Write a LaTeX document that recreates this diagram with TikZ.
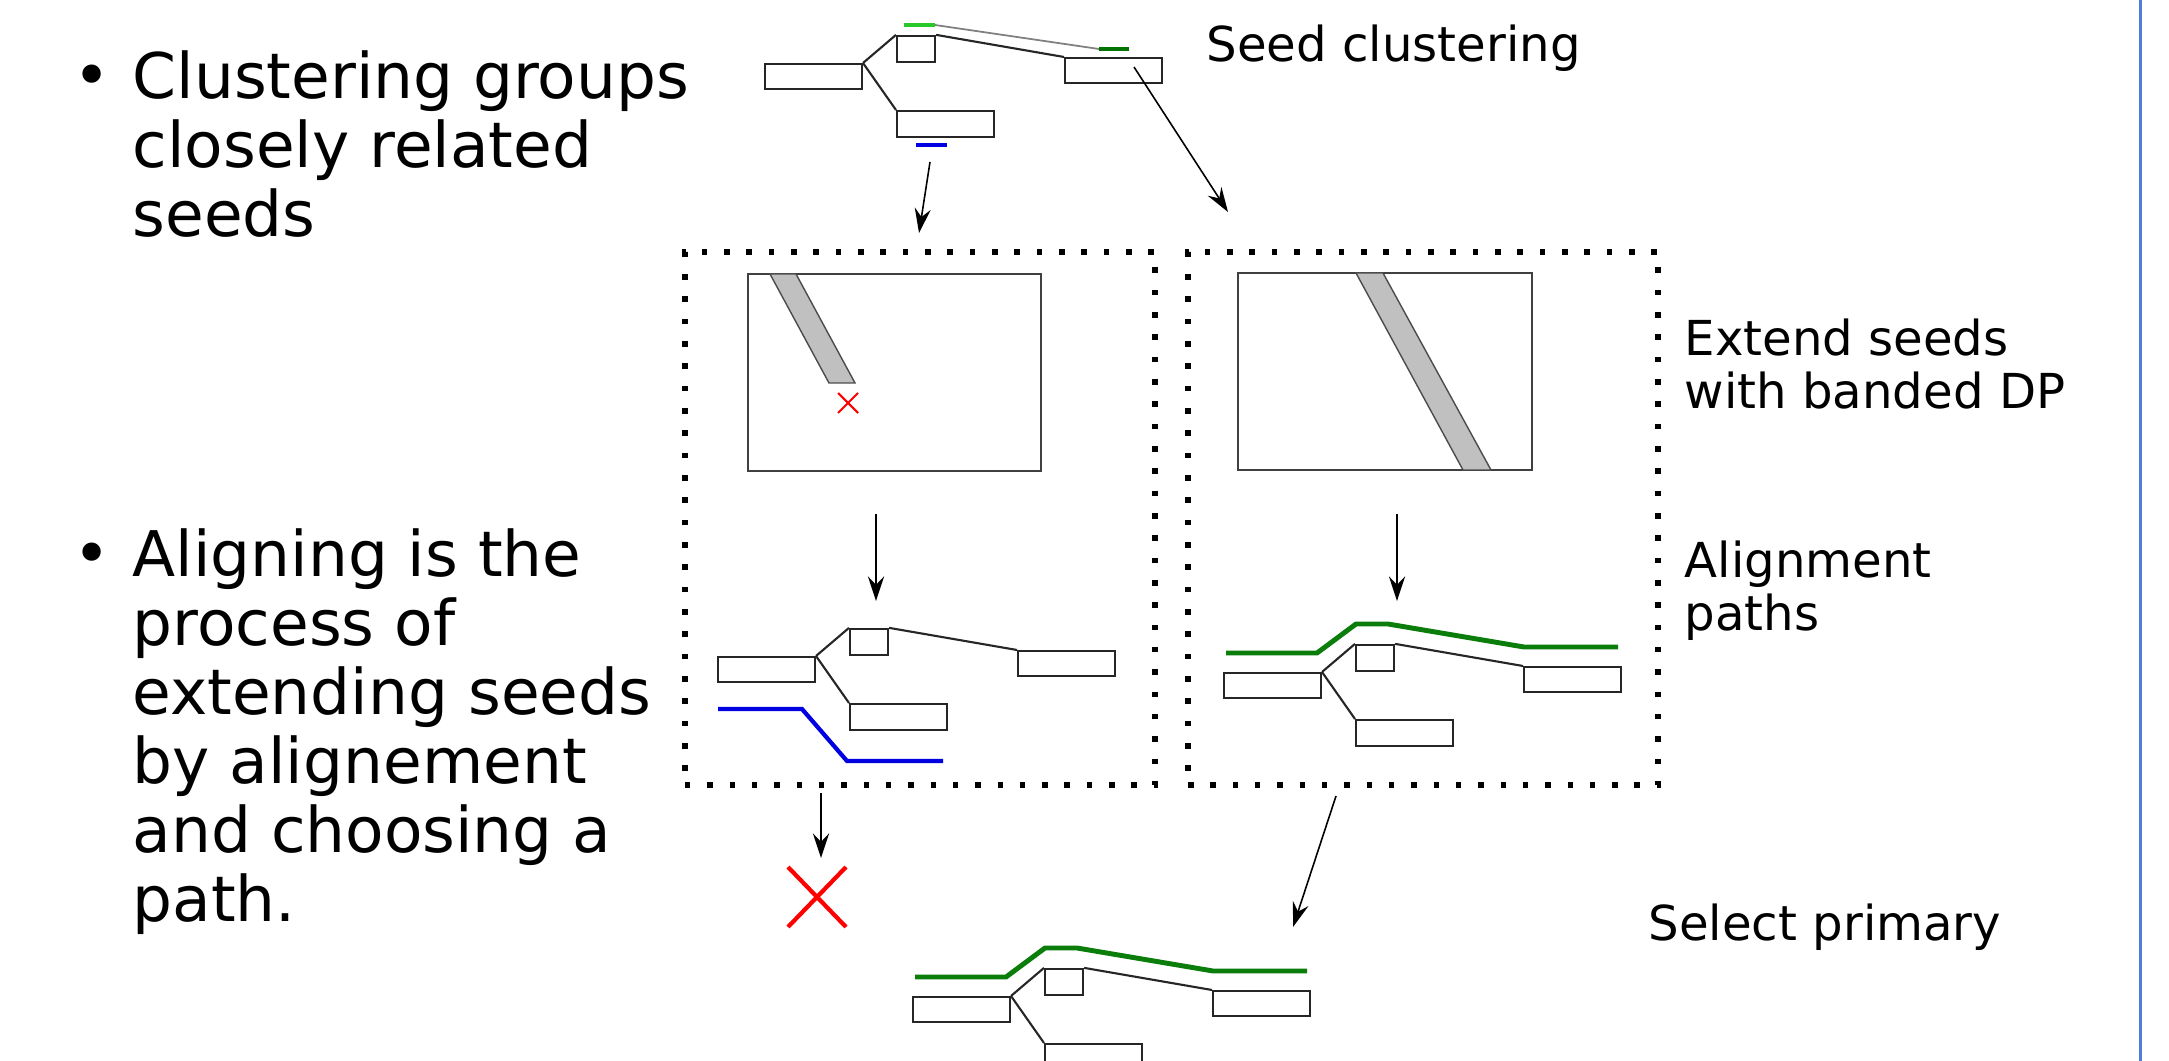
\documentclass[tikz,border=0pt]{standalone}
\usepackage{fontspec}
\setmainfont{DejaVu Sans}
\usepackage{tikz}
\usetikzlibrary{arrows.meta,calc,positioning}
\usepackage{xcolor}
\definecolor{seedgreen}{RGB}{40,200,40}
\definecolor{pathgreen}{RGB}{10,125,10}
\definecolor{seedblue}{RGB}{0,0,225}
\definecolor{slideblue}{RGB}{80,125,215}
\definecolor{bandgray}{RGB}{192,192,192}

\begin{document}
\begin{tikzpicture}[x=0.01cm,y=-0.01cm,
  seqbox/.style={draw=black!85,line width=0.6pt,rectangle,inner sep=0pt},
  link/.style={black!85,line width=0.6pt},
  stagebox/.style={draw,rectangle,inner sep=0pt,line width=1.6pt,dash pattern=on 1.6pt off 4.75pt},
  dpbox/.style={draw=black!75,line width=0.5pt},
  band/.style={draw=black!70,line width=0.4pt,fill=bandgray},
  flow/.style={-{Stealth[length=7pt,width=4.6pt,inset=2.4pt]},line width=0.45pt},
  bigtext/.style={font={\fontsize{17.9}{19.6}\selectfont},inner sep=0pt,align=left},
  steptext/.style={font={\fontsize{13.7}{15}\selectfont},inner sep=0pt,align=left}]
  \useasboundingbox (0,0) rectangle (2169,1061);

  % --- slide text on the left ---
  \node[bigtext,anchor=base] (bulletA) at (92,98) {•};
  \node[bigtext,anchor=north west] (clusterText) at (132,50)
       {Clustering groups\\closely related\\seeds};
  \node[bigtext,anchor=base] (bulletB) at (92,576) {•};
  \node[bigtext,anchor=north west] (alignText) at (132,528)
       {Aligning is the\\process of\\extending seeds\\by alignement\\and choosing a\\path.};

  % --- sequence graphs (same shape, four places) ---
  \foreach \g/\jx/\jy in {top/863/63,bad/816/656,good/1322/672,best/1011/996}{%
    \begin{scope}[shift={(\jx,\jy)},name prefix=\g-]
      \node[seqbox,minimum width=0.97cm,minimum height=0.25cm,anchor=north east] (L) at (0,0) {};
      \node[seqbox,minimum width=0.38cm,minimum height=0.26cm,anchor=south west] (S) at (33,0) {};
      \node[seqbox,minimum width=0.97cm,minimum height=0.26cm,anchor=north west] (D) at (33,47) {};
      \node[seqbox,minimum width=0.97cm,minimum height=0.25cm,anchor=north west] (R) at (201,-6) {};
      \draw[link] (L.north east) -- (S.north west);
      \draw[link] (L.north east) -- (D.north west);
      \draw[link] (S.north east) -- (R.north west);
    \end{scope}
  }

  % Seeds on the top graph
  \coordinate (seedA) at (935,25);
  \coordinate (seedB) at (1099,49);
  \draw[gray,line width=0.5pt] (seedA) -- (seedB);
  \draw[seedgreen,line width=1.2pt] (904,25) -- (seedA);
  \draw[green!45!black,line width=1.2pt] (seedB) -- (1129,49);
  \draw[seedblue,line width=1.2pt] (916,145) -- (947,145);

  % --- extension stages (dotted frames) ---
  \node[stagebox,minimum width=4.70cm,minimum height=5.33cm] (extendBad) at (920,518.5) {};
  \node[stagebox,minimum width=4.70cm,minimum height=5.33cm] (extendGood) at (1423,518.5) {};

  % Banded DP matrices
  \draw[dpbox] (748,274) rectangle (1041,471);
  \draw[band] (770,274) -- (796,274) -- (855,383) -- (829,383) -- cycle;
  \draw[red,line width=0.6pt] (838,393) -- (858,413) (838,413) -- (858,393);
  \draw[dpbox] (1238,273) rectangle (1532,470);
  \draw[band] (1356,273) -- (1383,273) -- (1491,470) -- (1463,470) -- cycle;

  % Alignment paths
  \draw[seedblue,line width=1.2pt,shift={(816,656)}]
       (-98,53) -- (-14,53) -- (31,105) -- (127,105);
  \foreach \jx/\jy in {1322/672,1011/996}
    \draw[pathgreen,line width=1.4pt,shift={(\jx,\jy)}]
         (-96,-19) -- (-5,-19) -- (34,-48) -- (66,-48) -- (202,-25) -- (296,-25);

  % Rejected seed
  \draw[red,line width=1.2pt] (788,867) -- (846,927) (788,927) -- (846,867);

  % --- arrows ---
  \coordinate (blueOut) at (930,162);  \coordinate (badIn) at (919,233);
  \coordinate (greenOut) at (1134,67); \coordinate (goodIn) at (1228,212);
  \coordinate (badDP) at (876,514);    \coordinate (badPath) at (876,601);
  \coordinate (goodDP) at (1397,514);  \coordinate (goodPath) at (1397,601);
  \coordinate (badOut) at (821,793);   \coordinate (reject) at (821,858);
  \coordinate (goodOut) at (1336,796); \coordinate (primary) at (1293,927);
  \draw[flow] (blueOut) -- (badIn);
  \draw[flow] (greenOut) -- (goodIn);
  \draw[flow] (badDP) -- (badPath);
  \draw[flow] (goodDP) -- (goodPath);
  \draw[flow] (badOut) -- (reject);
  \draw[flow] (goodOut) -- (primary);

  % --- step labels ---
  \node[steptext,anchor=base west] (lblSeed) at (1206,62) {Seed clustering};
  \node[steptext,anchor=north west] (lblExtend) at (1684,318) {Extend seeds\\with banded DP};
  \node[steptext,anchor=north west] (lblPaths) at (1684,540) {Alignment\\paths};
  \node[steptext,anchor=base west] (lblPrimary) at (1648,940) {Select primary};

  % slide border
  \draw[slideblue,line width=0.85pt] (2140,0) -- (2140,1061);
\end{tikzpicture}
\end{document}
